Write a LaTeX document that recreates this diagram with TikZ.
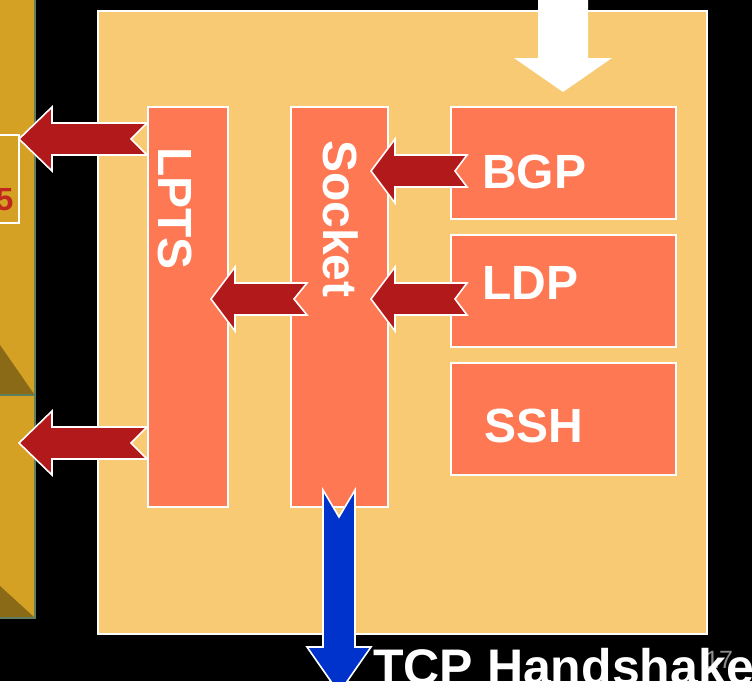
\documentclass[tikz,border=0pt]{standalone}
\usepackage{fontspec}
\setmainfont{Liberation Sans}
\definecolor{gold}{HTML}{D4A124}
\definecolor{darkgold}{HTML}{8A6A17}
\definecolor{edgegreen}{HTML}{5F7F5F}
\definecolor{mainfill}{HTML}{F7CA73}
\definecolor{coral}{HTML}{FF7854}
\definecolor{redarrow}{HTML}{B2191B}
\definecolor{bluearrow}{HTML}{0033CC}
\definecolor{pagegray}{HTML}{8C8C8C}
\definecolor{digitred}{HTML}{C0281E}
\tikzset{
  mainbox/.style={draw=white, line width=2pt, fill=mainfill},
  block/.style={draw=white, line width=1.5pt, fill=coral},
  redblock/.style={draw=white, line width=1.6pt, fill=redarrow, line join=miter},
  blueblock/.style={draw=white, line width=1.6pt, fill=bluearrow, line join=miter},
  lbl/.style={text=white, font=\bfseries\fontsize{48}{48}\selectfont, inner sep=0pt},
}
% left-pointing block arrow: tip x, y, head base x, tail x, notch x
\newcommand{\leftblock}[5]{%
  \draw[redblock] (#1,#2) -- (#3,#2-32) -- (#3,#2-16) -- (#4,#2-16) -- (#5,#2)
    -- (#4,#2+16) -- (#3,#2+16) -- (#3,#2+32) -- cycle;}
\begin{document}
\begin{tikzpicture}[x=1pt,y=-1pt]
\useasboundingbox (0,0) rectangle (752,681);
\clip (0,0) rectangle (752,681);
\fill[black] (0,0) rectangle (752,681);
% left strip
\fill[gold] (0,-2) rectangle (35,618);
\fill[darkgold] (0,345) -- (0,394) -- (34,394) -- cycle;
\fill[darkgold] (0,586) -- (0,617) -- (34,617) -- cycle;
\draw[edgegreen, line width=1.5pt] (35,-2) -- (35,618) -- (0,618);
\draw[edgegreen, line width=1.5pt] (0,395) -- (35,395);
\draw[white, line width=1.2pt] (-3,135) rectangle (19,223);
\node[text=digitred, font=\bfseries\fontsize{32}{32}\selectfont, anchor=base east, inner sep=0pt] (five) at (13.5,210) {5};
% main box
\draw[mainbox] (98,11) rectangle (707,634);
% inner blocks
\node[block, minimum width=80pt, minimum height=400pt, anchor=north west] (lpts) at (147,106) {};
\node[block, minimum width=97pt, minimum height=400pt, anchor=north west] (socket) at (290,106) {};
\node[block, minimum width=225pt, minimum height=112pt, anchor=north west] (bgp) at (450,106) {};
\node[block, minimum width=225pt, minimum height=112pt, anchor=north west] (ldp) at (450,234) {};
\node[block, minimum width=225pt, minimum height=112pt, anchor=north west] (ssh) at (450,362) {};
% labels
\node[lbl, rotate=-90, anchor=base west] (lptst) at (158,147) {LPTS};
\node[lbl, rotate=-90, anchor=base west] (sockett) at (323,140) {Socket};
\node[lbl, anchor=base west] (bgpt) at (482,188) {BGP};
\node[lbl, anchor=base west] (ldpt) at (482,299) {LDP};
\node[lbl, anchor=base west] (ssht) at (484,442) {SSH};
% white arrow into the box
\fill[white] (538,-2) -- (588,-2) -- (588,58) -- (612,58) -- (563,92) -- (514,58) -- (538,58) -- cycle;
% red arrows
\leftblock{371}{171}{395}{467}{455}
\leftblock{371}{299}{395}{467}{455}
\leftblock{211}{299}{235}{307}{294}
\leftblock{19}{139}{52}{147}{131}
\leftblock{19}{443}{52}{147}{131}
% blue arrow down
\draw[blueblock] (323,490) -- (339,517) -- (355,490) -- (355,647) -- (371,647)
  -- (339,693) -- (307,647) -- (323,647) -- cycle;
% page number and title
\node[text=pagegray, font=\fontsize{25}{25}\selectfont, anchor=base west, inner sep=0pt] (pg) at (705,668) {17};
\node[text=white, font=\bfseries\fontsize{50}{50}\selectfont, anchor=base west, inner sep=0pt] (tcp) at (373,684) {TCP Handshake};
\end{tikzpicture}
\end{document}
